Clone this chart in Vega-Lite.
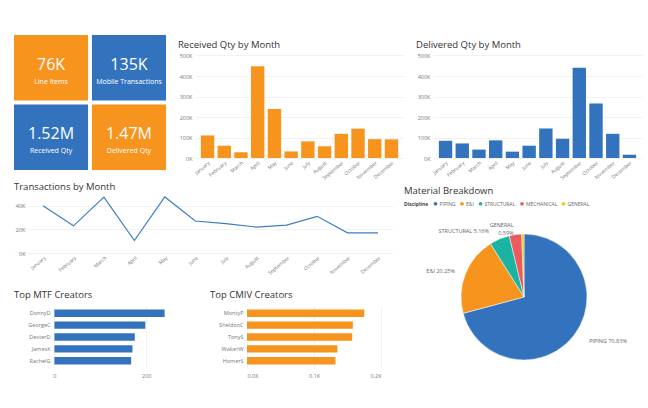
{
  "$schema": "https://vega.github.io/schema/vega-lite/v6.json",
  "background": "white",
  "padding": {"left": 14, "top": 35, "right": 4, "bottom": 2},
  "datasets": {
    "kpi": [
      {"metric": "Line Items", "value": "76K", "col": "1", "row": "1"},
      {"metric": "Mobile Transactions", "value": "135K", "col": "2", "row": "1"},
      {"metric": "Received Qty", "value": "1.52M", "col": "1", "row": "2"},
      {"metric": "Delivered Qty", "value": "1.47M", "col": "2", "row": "2"}
    ],
    "monthly": [
      {"month": "January", "received": 110000, "delivered": 84000, "transactions": 40000},
      {"month": "February", "received": 60000, "delivered": 71000, "transactions": 23000},
      {"month": "March", "received": 28000, "delivered": 41000, "transactions": 47400},
      {"month": "April", "received": 448000, "delivered": 86000, "transactions": 10600},
      {"month": "May", "received": 239000, "delivered": 31000, "transactions": 47500},
      {"month": "June", "received": 32000, "delivered": 60000, "transactions": 27100},
      {"month": "July", "received": 81000, "delivered": 144000, "transactions": 24900},
      {"month": "August", "received": 57000, "delivered": 94000, "transactions": 22000},
      {"month": "September", "received": 118000, "delivered": 440000, "transactions": 23700},
      {"month": "October", "received": 143000, "delivered": 266000, "transactions": 31100},
      {"month": "November", "received": 92000, "delivered": 118000, "transactions": 17100},
      {"month": "December", "received": 91000, "delivered": 16000, "transactions": 17100}
    ],
    "mtf": [
      {"creator": "DonnyD", "count": 240},
      {"creator": "GeorgeC", "count": 198},
      {"creator": "DexterD", "count": 175},
      {"creator": "JamesK", "count": 170},
      {"creator": "RachelG", "count": 167}
    ],
    "cmiv": [
      {"creator": "MontyP", "count": 175},
      {"creator": "SheldonC", "count": 158},
      {"creator": "TonyS", "count": 157},
      {"creator": "WalterW", "count": 135},
      {"creator": "HomerS", "count": 132}
    ],
    "pie": [
      {"discipline": "PIPING", "share": 70.83, "label": "PIPING 70.83%"},
      {"discipline": "E&I", "share": 20.25, "label": "E&I 20.25%"},
      {"discipline": "STRUCTURAL", "share": 5.16, "label": "STRUCTURAL 5.16%"},
      {"discipline": "MECHANICAL", "share": 3.17, "label": "MECHANICAL 3.17%"},
      {"discipline": "GENERAL", "share": 0.59, "label": "GENERAL\n0.59%"}
    ]
  },
  "spacing": 0,
  "resolve": {"scale": {"color": "independent"}, "legend": {"color": "independent"}},
  "vconcat": [
    {
      "spacing": 12,
      "resolve": {"scale": {"color": "independent"}, "legend": {"color": "independent"}},
      "hconcat": [
        {
          "width": 152,
          "height": 135,
          "data": {"name": "kpi"},
          "encoding": {
            "x": {"field": "col", "type": "nominal", "axis": null, "scale": {"paddingInner": 0.05, "paddingOuter": 0}},
            "y": {"field": "row", "type": "nominal", "axis": null, "scale": {"paddingInner": 0.06, "paddingOuter": 0}}
          },
          "layer": [
            {
              "mark": {"type": "rect"},
              "encoding": {
                "color": {
                  "field": "metric", "type": "nominal", "legend": null,
                  "scale": {"domain": ["Line Items", "Mobile Transactions", "Received Qty", "Delivered Qty"], "range": ["#F7941E", "#3373BE", "#3373BE", "#F7941E"]}
                }
              }
            },
            {
              "mark": {"type": "text", "color": "white", "fontSize": 16, "dy": -3},
              "encoding": {"text": {"field": "value"}}
            },
            {
              "mark": {"type": "text", "color": "white", "fontSize": 7, "dy": 14},
              "encoding": {"text": {"field": "metric"}}
            }
          ]
        },
        {
          "title": {"text": "Received Qty by Month", "offset": -14},
          "width": 209,
          "height": 123,
          "data": {"name": "monthly"},
          "mark": {"type": "bar", "color": "#F7941E"},
          "encoding": {
            "x": {
              "field": "month", "type": "ordinal", "title": null,
              "sort": ["January", "February", "March", "April", "May", "June", "July", "August", "September", "October", "November", "December"],
              "scale": {"paddingInner": 0.2, "paddingOuter": 0.35},
              "axis": {"labelAngle": -40, "grid": false, "labelFontSize": 5, "labelPadding": 2}
            },
            "y": {
              "field": "received", "type": "quantitative", "title": null,
              "scale": {"domain": [0, 600000]},
              "axis": {"values": [0, 100000, 200000, 300000, 400000, 500000], "labelExpr": "(datum.value/1000) + 'K'", "minExtent": 17, "labelPadding": 3}
            }
          }
        },
        {
          "title": {"text": "Delivered Qty by Month", "offset": -14},
          "width": 209,
          "height": 123,
          "data": {"name": "monthly"},
          "mark": {"type": "bar", "color": "#3373BE"},
          "encoding": {
            "x": {
              "field": "month", "type": "ordinal", "title": null,
              "sort": ["January", "February", "March", "April", "May", "June", "July", "August", "September", "October", "November", "December"],
              "scale": {"paddingInner": 0.2, "paddingOuter": 0.35},
              "axis": {"labelAngle": -40, "grid": false, "labelFontSize": 5, "labelPadding": 2}
            },
            "y": {
              "field": "delivered", "type": "quantitative", "title": null,
              "scale": {"domain": [0, 600000]},
              "axis": {"values": [0, 100000, 200000, 300000, 400000, 500000], "labelExpr": "(datum.value/1000) + 'K'", "minExtent": 17, "labelPadding": 3}
            }
          }
        }
      ]
    },
    {
      "spacing": 11,
      "resolve": {"scale": {"color": "independent"}, "legend": {"color": "independent"}},
      "hconcat": [
        {
          "spacing": 13,
          "vconcat": [
            {
              "title": {"text": "Transactions by Month", "offset": 3},
              "width": 379,
              "height": 59,
              "data": {"name": "monthly"},
              "mark": {"type": "line", "color": "#3C7DC4", "strokeWidth": 1.2},
              "encoding": {
                "x": {
                  "field": "month", "type": "ordinal", "title": null,
                  "sort": ["January", "February", "March", "April", "May", "June", "July", "August", "September", "October", "November", "December"],
                  "scale": {"type": "point", "padding": 0.7225, "align": 0.659},
                  "axis": {"labelAngle": -40, "grid": false, "labelFontSize": 5, "labelPadding": 2}
                },
                "y": {
                  "field": "transactions", "type": "quantitative", "title": null,
                  "scale": {"domain": [0, 50000]},
                  "axis": {"values": [0, 20000, 40000], "labelExpr": "(datum.value/1000) + 'K'", "labelPadding": -11}
                }
              }
            },
            {
              "spacing": 27,
              "hconcat": [
                {
                  "title": {"text": "Top MTF Creators", "offset": 7},
                  "width": 169,
                  "height": 62,
                  "data": {"name": "mtf"},
                  "mark": {"type": "bar", "color": "#3373BE"},
                  "encoding": {
                    "y": {"field": "creator", "type": "nominal", "sort": null, "title": null, "scale": {"paddingInner": 0.38, "paddingOuter": 0.3}, "axis": {"labelPadding": -36, "grid": false}},
                    "x": {"field": "count", "type": "quantitative", "title": null, "scale": {"domain": [-88, 280]}, "axis": {"values": [0, 200], "grid": true, "labelPadding": 5}}
                  }
                },
                {
                  "title": {"text": "Top CMIV Creators", "offset": 7},
                  "width": 134,
                  "height": 62,
                  "data": {"name": "cmiv"},
                  "mark": {"type": "bar", "color": "#F7941E"},
                  "encoding": {
                    "y": {"field": "creator", "type": "nominal", "sort": null, "title": null, "scale": {"paddingInner": 0.38, "paddingOuter": 0.3}, "axis": {"minExtent": 37, "labelPadding": 4, "grid": false}},
                    "x": {"field": "count", "type": "quantitative", "title": null, "scale": {"domain": [0, 200]}, "axis": {"values": [0, 100, 200], "labelExpr": "format(datum.value/1000, '.1f') + 'K'", "grid": true, "labelPadding": 5}}
                  }
                }
              ]
            }
          ]
        },
        {
          "title": {"text": "Material Breakdown", "offset": -1, "frame": "group"},
          "width": 240,
          "height": 206,
          "data": {"name": "pie"},
          "encoding": {
            "theta": {"field": "share", "type": "quantitative", "stack": true},
            "order": {"field": "share", "sort": "descending"}
          },
          "layer": [
            {
              "mark": {"type": "arc", "outerRadius": 63, "stroke": "white", "strokeWidth": 0.5},
              "encoding": {
                "color": {
                  "field": "discipline", "type": "nominal",
                  "scale": {"domain": ["PIPING", "E&I", "STRUCTURAL", "MECHANICAL", "GENERAL"], "range": ["#3373BE", "#F7941E", "#1BB3A2", "#EB5A5C", "#F4C20D"]},
                  "legend": {
                    "orient": "none", "legendX": 0, "legendY": 7, "direction": "horizontal", "title": "Discipline", "titleOrient": "left",
                    "titleFontSize": 5, "titleFontWeight": "bold", "titleColor": "#444", "titlePadding": 4,
                    "labelFontSize": 5, "labelColor": "#666", "symbolType": "circle", "symbolSize": 14,
                    "symbolStrokeWidth": 0, "columnPadding": 3.5, "labelOffset": 1.5
                  }
                }
              }
            },
            {
              "mark": {"type": "text", "radius": 72, "align": "left", "dx": 8, "fontSize": 5.5, "color": "#666"},
              "encoding": {"detail": {"field": "discipline"}, "text": {"condition": {"test": "datum.discipline === 'PIPING'", "field": "label"}, "value": ""}}
            },
            {
              "mark": {"type": "text", "radius": 72, "align": "right", "dx": -2, "fontSize": 5.5, "color": "#666"},
              "encoding": {"detail": {"field": "discipline"}, "text": {"condition": {"test": "datum.discipline === 'E&I'", "field": "label"}, "value": ""}}
            },
            {
              "mark": {"type": "text", "radius": 72, "align": "right", "dx": -7, "fontSize": 5.5, "color": "#666"},
              "encoding": {"detail": {"field": "discipline"}, "text": {"condition": {"test": "datum.discipline === 'STRUCTURAL'", "field": "label"}, "value": ""}}
            },
            {
              "mark": {"type": "text", "radius": 72, "align": "right", "dx": -9, "fontSize": 5.5, "color": "#666", "lineBreak": "\n"},
              "encoding": {"detail": {"field": "discipline"}, "text": {"condition": {"test": "datum.discipline === 'GENERAL'", "field": "label"}, "value": ""}}
            }
          ]
        }
      ]
    }
  ],
  "config": {
    "font": "Open Sans",
    "view": {"stroke": null},
    "axis": {"domain": false, "ticks": false, "labelFontSize": 5.5, "labelColor": "#777", "gridColor": "#efefef", "gridWidth": 0.8, "minExtent": 0, "labelFont": "Open Sans"},
    "title": {"fontSize": 9.5, "fontWeight": "normal", "color": "#333", "anchor": "start", "frame": "bounds", "offset": 6, "font": "Open Sans"},
    "legend": {"labelFont": "Open Sans", "titleFont": "Open Sans"}
  }
}
